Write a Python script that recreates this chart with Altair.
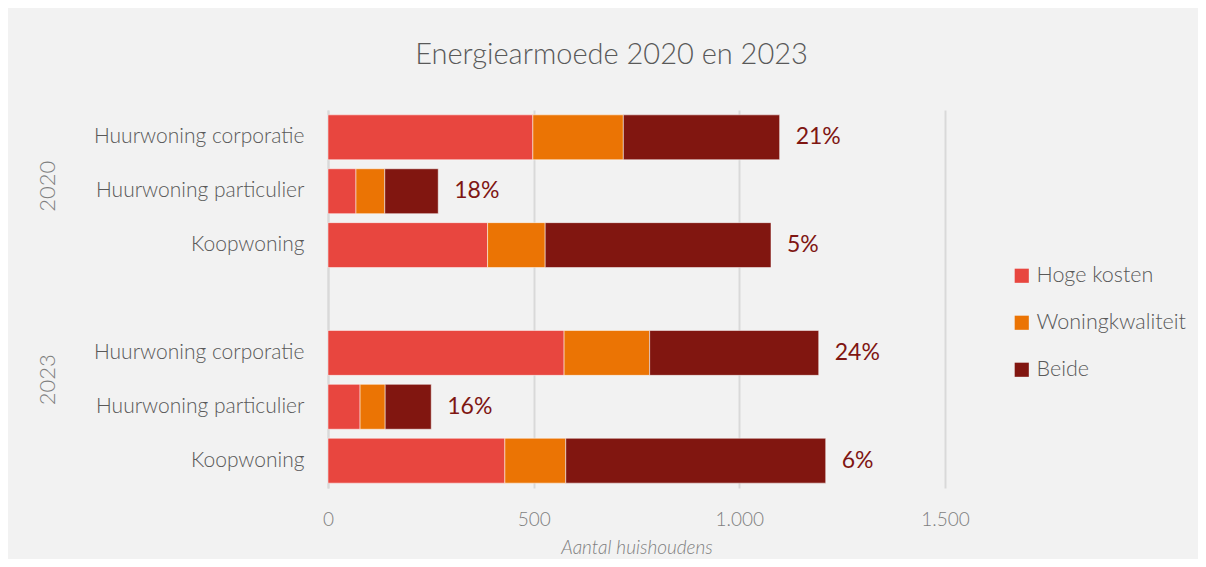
import altair as alt
import pandas as pd

years = ["2020", "2023"]
categories = ["Huurwoning corporatie", "Huurwoning particulier", "Koopwoning"]
series = ["Hoge kosten", "Woningkwaliteit", "Beide"]
colors = ["#E8463F", "#EB7404", "#811610"]

# per year, per category (2020 first, then 2023)
hoge_kosten = [498, 68, 388, 574, 78, 430]
woningkwaliteit = [220, 70, 140, 208, 61, 148]
beide = [380, 130, 549, 411, 112, 632]
percentages = ["21%", "18%", "5%", "24%", "16%", "6%"]

x_ticks = [0, 500, 1000, 1500]

keys = []
for y in years:
    for c in categories:
        keys.append(f"{y}|{c}")
domain = keys[:3] + ["gap"] + keys[3:]

rows = []
for i, k in enumerate(keys):
    for s_idx, (s, vals) in enumerate(zip(series, [hoge_kosten, woningkwaliteit, beide])):
        rows.append({"key": k, "series": s, "order": s_idx, "value": vals[i]})
bars_df = pd.DataFrame(rows)

tot_df = pd.DataFrame({
    "key": keys,
    "total": [a + b + c for a, b, c in zip(hoge_kosten, woningkwaliteit, beide)],
    "pct": percentages,
})

FONT = "Lato"

y_enc = alt.Y(
    "key:N",
    scale=alt.Scale(domain=domain, paddingInner=0.167, paddingOuter=0.09),
    axis=alt.Axis(
        title=None,
        labelExpr="indexof(datum.label, '|') >= 0 ? split(datum.label, '|')[1] : ''",
        labelFontSize=21,
        labelFont=FONT,
        labelFontWeight=300,
        labelColor="#595959",
        labelPadding=24,
        labelLimit=0,
        ticks=False,
        domainColor="#D9D9D9",
        domainWidth=2,
        grid=False,
    ),
)

x_axis = alt.Axis(
    values=x_ticks,
    labelExpr="replace(format(datum.value, ','), ',', '.')",
    title="Aantal huishoudens",
    titleFont=FONT,
    titleFontSize=19,
    titleFontStyle="italic",
    titleFontWeight=300,
    titleColor="#7F7F7F",
    titlePadding=9,
    labelFont=FONT,
    labelFontSize=19,
    labelFontWeight=300,
    labelColor="#7F7F7F",
    labelPadding=22,
    labelFlush=False,
    ticks=False,
    domain=False,
    grid=True,
    gridColor="#D9D9D9",
    gridWidth=2,
)

bars = alt.Chart(bars_df).mark_bar(stroke="#FFFFFF", strokeWidth=1, strokeOpacity=0.5).encode(
    x=alt.X("value:Q", stack="zero", scale=alt.Scale(domain=[0, 1500], nice=False), axis=x_axis),
    y=y_enc,
    color=alt.Color(
        "series:N",
        scale=alt.Scale(domain=series, range=colors),
        legend=alt.Legend(
            title=None,
            orient="none",
            legendX=683,
            legendY=155,
            symbolType="square",
            symbolSize=200,
            symbolStrokeWidth=0,
            labelFont=FONT,
            labelFontSize=21.5,
            labelFontWeight=300,
            labelColor="#595959",
            rowPadding=24,
            labelOffset=4,
        ),
    ),
    order=alt.Order("order:Q"),
)

labels = alt.Chart(tot_df).mark_text(
    align="left", baseline="middle", dx=16, fontSize=23, font=FONT, color="#7F1612"
).encode(
    x=alt.X("total:Q"),
    y=alt.Y("key:N", scale=alt.Scale(domain=domain)),
    text="pct:N",
)

year_2020 = alt.Chart(pd.DataFrame({"key": [f"{years[0]}|{categories[1]}"], "year": [years[0]]})).mark_text(
    angle=270, align="center", baseline="middle", fontSize=22, font=FONT, fontWeight=300,
    color="#7F7F7F", dx=5
).encode(
    x=alt.value(-280),
    y=alt.Y("key:N", scale=alt.Scale(domain=domain)),
    text="year:N",
)

year_2023 = alt.Chart(pd.DataFrame({"key": [f"{years[1]}|{categories[1]}"], "year": [years[1]]})).mark_text(
    angle=270, align="center", baseline="middle", fontSize=22, font=FONT, fontWeight=300,
    color="#7F7F7F", dx=27
).encode(
    x=alt.value(-280),
    y=alt.Y("key:N", scale=alt.Scale(domain=domain)),
    text="year:N",
)

chart = alt.layer(bars, labels, year_2020, year_2023).properties(
    width=617,
    height=378,
    title=alt.TitleParams(
        "Energiearmoede 2020 en 2023",
        font=FONT,
        fontSize=29,
        fontWeight=300,
        color="#595959",
        anchor="middle",
        offset=40,
        dx=-25,
    ),
    background="#F2F2F2",
    padding={"left": 320, "top": 102, "right": 253, "bottom": 71},
    autosize=alt.AutoSizeParams(type="none"),
).configure_view(stroke=None)

chart.save("out.html", embed_options={"renderer": "svg", "actions": False})
